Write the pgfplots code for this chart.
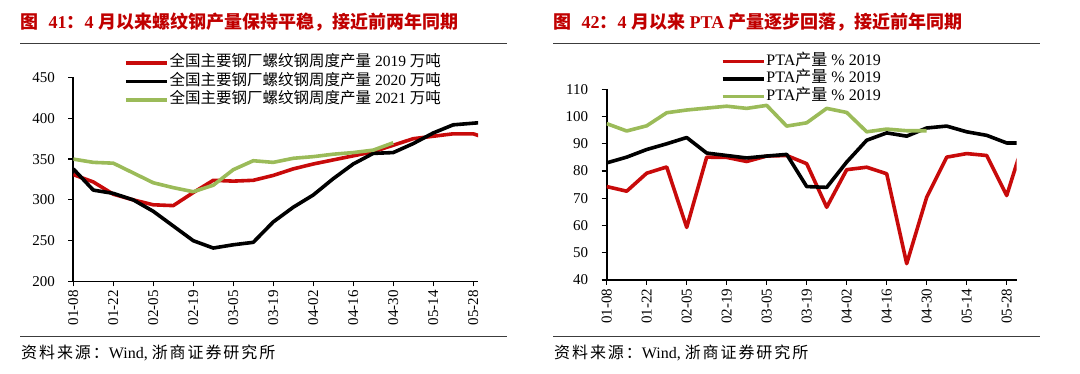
\documentclass[border=0pt]{standalone}
\usepackage{fontspec}
\setmainfont{Liberation Serif}
\newfontfamily\cjk{Noto Sans CJK SC}
\newfontfamily\cjks{Noto Sans CJK SC}[LetterSpace=12]
\usepackage{pgfplots}
\pgfplotsset{compat=1.18}
\usepackage{pgfplotstable}
\definecolor{cred}{RGB}{200,10,10}
\definecolor{cgreen}{RGB}{155,187,89}
\definecolor{ttl}{RGB}{192,0,0}
\definecolor{rule}{RGB}{60,60,60}

% left chart: weekly rebar output (10k t), week 0 = 01-08
\pgfplotstableread{
w  r19  b20
0  331  338
1  322  312
2  307  308
3  300  300
4  294  286
5  293  268
6  309  250
7  324  241
8  323  245
9  324  248
10 330  273
11 338  291
12 344  306
13 349  326
14 354  344
15 359  357
16 367  358
17 375  369
18 378  382
19 381  392
20 381  394
21 373  396
}\steelA
\pgfplotstableread{
w  g21
0  350
1  346
2  345
3  333
4  321
5  315
6  310
7  318
8  337
9  348
10 346
11 351
12 353
13 356
14 358
15 361
16 370
}\steelB
% right chart: PTA
\pgfplotstableread{
w  r   b
0  74.3 83.0
1  72.6 85.1
2  79.2 87.9
3  81.5 90.0
4  59.3 92.3
5  85.1 86.6
6  85.0 85.7
7  83.5 84.8
8  85.5 85.5
9  85.7 86.1
10 82.7 74.3
11 66.7 74.0
12 80.5 83.3
13 81.4 91.3
14 79.0 94.0
15 46.0 92.8
16 70.4 95.8
17 85.1 96.5
18 86.4 94.4
19 85.7 93.1
20 71.0 90.3
21 94.4 90.3
}\ptaA
\pgfplotstableread{
w  g
0  97.4
1  94.7
2  96.6
3  101.4
4  102.4
5  103.1
6  103.8
7  103.0
8  104.1
9  96.5
10 97.7
11 103.0
12 101.5
13 94.4
14 95.4
15 94.8
16 94.8
}\ptaB

\pgfplotsset{
  common/.style={
    scale only axis,
    anchor=south west,
    xmin=0,
    axis x line*=bottom, axis y line*=left,
    axis line style={-, line width=1.6pt, black},
    tick style={line width=1.2pt, black},
    tick align=outside,
    major tick length=5pt,
    xtick={0,2,...,20},
    xticklabels={01-08,01-22,02-05,02-19,03-05,03-19,04-02,04-16,04-30,05-14,05-28},
    xticklabel style={rotate=90, anchor=east, font=\fontsize{15}{15}\selectfont},
    yticklabel style={font=\fontsize{15}{15}\selectfont, xshift=-10pt},
    /pgf/number format/assume math mode=true,
    legend cell align=left,
    legend image code/.code={\draw[##1] (0pt,0pt) -- (41pt,0pt);},
    legend style={draw=none, fill=none, inner sep=0pt, row sep=1pt,
      nodes={inner sep=1pt, text height=11pt, text depth=3.5pt}},
    every axis plot/.append style={line width=3.6pt, line join=round},
  }
}

\begin{document}
\begin{tikzpicture}
\path (0pt,0pt) rectangle (1080pt,-374pt);

% ---------- titles and rules
\node[anchor=west, text=ttl, inner sep=0pt] at (20pt,-22pt)
  {\bfseries\fontsize{18}{18}\selectfont{\cjk 图}\hspace{6pt} 41{\cjk ：}4 {\cjk 月以来螺纹钢产量保持平稳，接近前两年同期}};
\node[anchor=west, text=ttl, inner sep=0pt] at (553pt,-22pt)
  {\bfseries\fontsize{18}{18}\selectfont{\cjk 图}\hspace{6pt} 42{\cjk ：}4 {\cjk 月以来} PTA {\cjk 产量逐步回落，接近前年同期}};
\draw[rule, line width=0.9pt] (20pt,-43pt) -- (507pt,-43pt);
\draw[rule, line width=0.9pt] (553pt,-43pt) -- (1040pt,-43pt);
\draw[rule, line width=0.9pt] (20pt,-336pt) -- (507pt,-336pt);
\draw[rule, line width=0.9pt] (553pt,-336pt) -- (1040pt,-336pt);
\node[anchor=west, inner sep=0pt] at (21pt,-352.5pt)
  {\fontsize{16}{16}\selectfont{\cjks 资料来源：}Wind, {\cjks 浙商证券研究所}};
\node[anchor=west, inner sep=0pt] at (554pt,-352.5pt)
  {\fontsize{16}{16}\selectfont{\cjks 资料来源：}Wind, {\cjks 浙商证券研究所}};

% ---------- left chart
\begin{axis}[common,
  at={(73.3pt,-281.5pt)}, width=404.7pt, height=204pt,
  xmax=20.24, ymin=200, ymax=450, ytick={200,250,...,450},
  legend style={at={(axis description cs:0.125,1.1125)}, anchor=north west,
    row sep=2pt, font=\fontsize{15.5}{15.5}\selectfont},
]
\addplot[cred] table[x=w, y=r19] {\steelA};
\addlegendentry{{\cjk 全国主要钢厂螺纹钢周度产量} 2019 {\cjk 万吨}}
\addplot[black] table[x=w, y=b20] {\steelA};
\addlegendentry{{\cjk 全国主要钢厂螺纹钢周度产量} 2020 {\cjk 万吨}}
\addplot[cgreen] table[x=w, y=g21] {\steelB};
\addlegendentry{{\cjk 全国主要钢厂螺纹钢周度产量} 2021 {\cjk 万吨}}
\end{axis}

% ---------- right chart
\begin{axis}[common,
  at={(606.7pt,-280pt)}, width=410pt, height=190.7pt,
  xmax=20.5, ymin=40, ymax=110, ytick={40,50,...,110},
  legend style={at={(axis description cs:0.278,1.19)}, anchor=north west,
    row sep=1pt, font=\fontsize{16}{16}\selectfont},
]
\addplot[cred] table[x=w, y=r] {\ptaA};
\addlegendentry{PTA{\cjk 产量} \% 2019}
\addplot[black] table[x=w, y=b] {\ptaA};
\addlegendentry{PTA{\cjk 产量} \% 2019}
\addplot[cgreen] table[x=w, y=g] {\ptaB};
\addlegendentry{PTA{\cjk 产量} \% 2019}
\end{axis}
\end{tikzpicture}
\end{document}
